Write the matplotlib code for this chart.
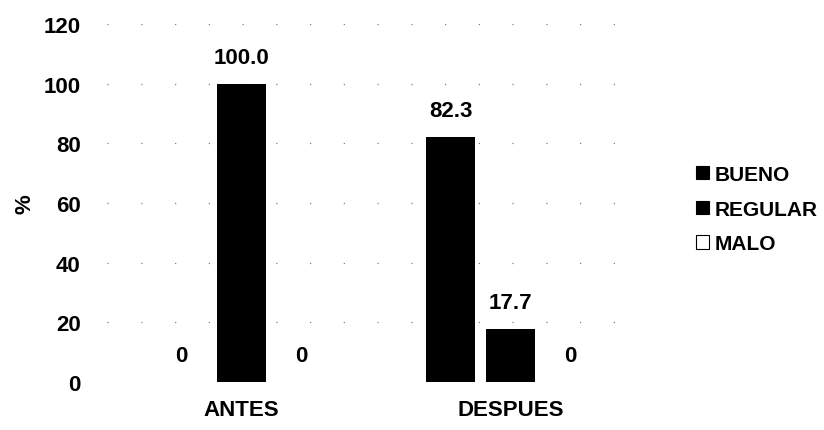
import matplotlib.pyplot as plt
import numpy as np

categorias = ['ANTES', 'DESPUES']
series = ['BUENO', 'REGULAR', 'MALO']
bueno = [0, 82.3]
regular = [100.0, 17.7]
malo = [0, 0]
etiquetas = [['0', '82.3'], ['100.0', '17.7'], ['0', '0']]

plt.rcParams['font.family'] = ['Liberation Sans', 'DejaVu Sans']
plt.rcParams['font.weight'] = 'bold'

fig = plt.figure(figsize=(8.24, 4.31), dpi=100)
ax = fig.add_axes([0.130, 0.111, 0.653, 0.831])

x = np.arange(len(categorias))
paso = 0.223
ancho = 0.182
colores = ['black', 'black', 'white']

for i, (nombre, vals) in enumerate(zip(series, [bueno, regular, malo])):
    pos = x + (i - 1) * paso
    ax.bar(pos, vals, ancho, color=colores[i], edgecolor='black', linewidth=0,
           label=nombre, zorder=3)
    for p, v, t in zip(pos, vals, etiquetas[i]):
        ax.annotate(t, (p, v), xytext=(0, 19), textcoords='offset points',
                    ha='center', va='center', fontsize=16, fontweight='bold')

ax.set_xlim(-0.5, 1.5)
ax.set_ylim(0, 120)
ax.set_yticks(range(0, 121, 20))
ax.set_xticks(x)
ax.set_xticklabels(categorias)
ax.tick_params(length=0, labelsize=16)
ax.tick_params(axis='y', pad=19)
ax.tick_params(axis='x', pad=12)
for s in ax.spines.values():
    s.set_visible(False)
ax.yaxis.grid(True, color='gray', linewidth=0.9, linestyle=(0, (1, 26)), zorder=0)
ax.set_ylabel('%', fontsize=16, fontweight='bold', labelpad=6)

leg = ax.legend(loc='center left', bbox_to_anchor=(1.06, 0.483), frameon=False,
                handlelength=0.6, handleheight=0.6, handletextpad=0.3, labelspacing=0.75,
                prop={'weight': 'bold', 'size': 15})
for h in leg.legend_handles:
    h.set_edgecolor('black')
    h.set_linewidth(0.8)

fig.savefig('out.png', dpi=100)
